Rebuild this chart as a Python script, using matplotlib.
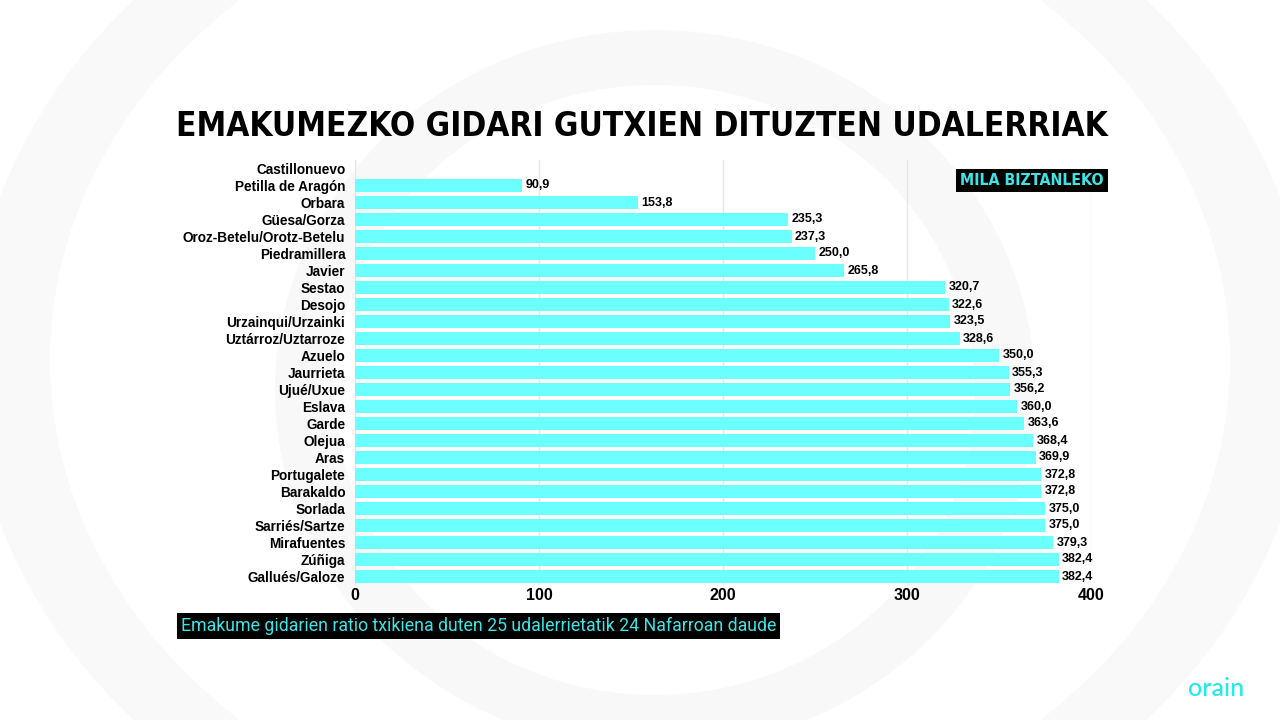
import matplotlib
matplotlib.use("Agg")
import matplotlib.pyplot as plt
import numpy as np
from matplotlib.patches import Ellipse
from matplotlib import font_manager as fm

categories = ["Castillonuevo", "Petilla de Aragón", "Orbara", "Güesa/Gorza",
              "Oroz-Betelu/Orotz-Betelu", "Piedramillera", "Javier", "Sestao",
              "Desojo", "Urzainqui/Urzainki", "Uztárroz/Uztarroze", "Azuelo",
              "Jaurrieta", "Ujué/Uxue", "Eslava", "Garde", "Olejua", "Aras",
              "Portugalete", "Barakaldo", "Sorlada", "Sarriés/Sartze",
              "Mirafuentes", "Zúñiga", "Gallués/Galoze"]
values = [np.nan, 90.9, 153.8, 235.3, 237.3, 250.0, 265.8, 320.7, 322.6, 323.5,
          328.6, 350.0, 355.3, 356.2, 360.0, 363.6, 368.4, 369.9, 372.8, 372.8,
          375.0, 375.0, 379.3, 382.4, 382.4]
xticks = [0, 100, 200, 300, 400]

title = "EMAKUMEZKO GIDARI GUTXIEN DITUZTEN UDALERRIAK"
unit_label = "MILA BIZTANLEKO"
note = "Emakume gidarien ratio txikiena duten 25 udalerrietatik 24 Nafarroan daude"

BAR = "#6bffff"
CYAN_TXT = "#3fe3e3"

names = {f.name for f in fm.fontManager.ttflist}
cond = "Liberation Sans Narrow" if "Liberation Sans Narrow" in names else "DejaVu Sans"

fig = plt.figure(figsize=(12.8, 7.2), dpi=100)
fig.patch.set_facecolor("white")

# subtle background circles
bg = fig.add_axes([0, 0, 1, 1], zorder=-10)
bg.set_xlim(0, 1280); bg.set_ylim(720, 0); bg.axis("off")
bg.add_patch(Ellipse((640, 360), 1340, 1100, facecolor="#f9f9f9", edgecolor="none"))
bg.add_patch(Ellipse((640, 360), 1180, 980, facecolor="white", edgecolor="none"))
bg.add_patch(Ellipse((655, 390), 760, 720, facecolor="#f8f8f8", edgecolor="none"))
bg.add_patch(Ellipse((655, 390), 640, 610, facecolor="white", edgecolor="none"))

ax = fig.add_axes([355/1280, 1 - 585/720, (1091-355)/1280, (585-160)/720])
ax.patch.set_alpha(0)
y = np.arange(len(categories))
ax.barh(y, values, height=0.82, color=BAR, zorder=3)
ax.set_ylim(len(categories) - 0.5, -0.5)
ax.set_xlim(0, 400)
ax.set_yticks(y)
ax.set_yticklabels(categories, fontsize=9.8, fontweight="bold", family="Liberation Sans")
ax.set_xticks(xticks)
ax.set_xticklabels([str(t) for t in xticks], fontsize=11.5, fontweight="bold", family="Liberation Sans")
ax.tick_params(axis="y", length=0, pad=7)
ax.tick_params(axis="x", length=0, pad=2.5)
for s in ["top", "right", "bottom"]:
    ax.spines[s].set_visible(False)
ax.spines["left"].set_color("#e6e6e6")
ax.grid(axis="x", color="#e6e6e6", linewidth=1, zorder=0)

for yi, v in zip(y, values):
    if np.isnan(v):
        continue
    ax.annotate(f"{v:.1f}".replace(".", ","), (v, yi), xytext=(2.5, 0),
                textcoords="offset points", va="center", ha="left",
                fontsize=9, fontweight="bold", family="Liberation Sans", zorder=4)

renderer = fig.canvas.get_renderer()

def fit(txt, target_w):
    w = txt.get_window_extent(renderer).width
    txt.set_fontsize(txt.get_fontsize() * target_w / w)

t = fig.text(642/1280, 1 - 127/720, title, ha="center", va="center",
             fontsize=27, fontweight="bold", family=cond, fontstretch="condensed")
fit(t, 933)

u = fig.text(1032/1280, 1 - 180.5/720, unit_label, ha="center", va="center",
             fontsize=11.5, fontweight="bold", color=CYAN_TXT, family=cond,
             fontstretch="condensed")
fit(u, 145)
u.set_bbox(dict(boxstyle="square,pad=0.25", facecolor="black", edgecolor="none"))

n = fig.text(181/1280, 1 - 626/720, note, ha="left", va="center",
             fontsize=12.7, color=CYAN_TXT, family="Roboto")
fit(n, 594)
n.set_bbox(dict(boxstyle="square,pad=0.2", facecolor="black", edgecolor="none"))

fig.text(1216/1280, 1 - 688/720, "orain", ha="center", va="center",
         fontsize=18, fontweight="medium", color="#22eaea", family="Lato")

fig.savefig("out.png", dpi=100)
